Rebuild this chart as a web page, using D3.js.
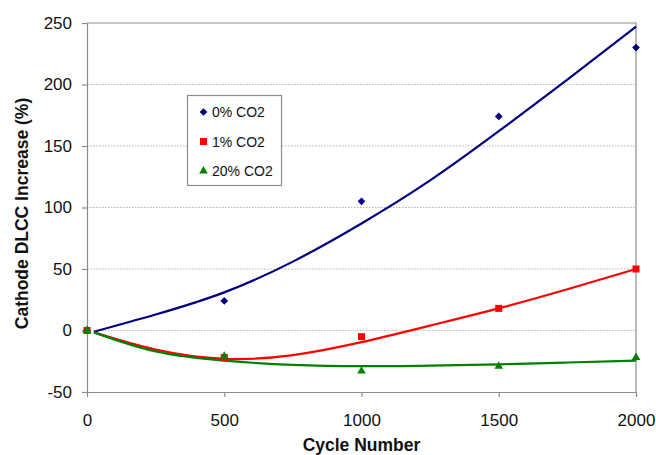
<!DOCTYPE html>
<html>
<head>
<meta charset="utf-8">
<script src="https://cdn.jsdelivr.net/npm/d3@7"></script>
<style>
  html, body { margin: 0; padding: 0; background: #fff; }
  svg { display: block; font-family: "Liberation Sans", Arial, sans-serif; }
</style>
</head>
<body>
<div id="chart"></div>
<script>
// measured points
const cycles = [0, 500, 1000, 1500, 2000];
const co2_0 = [0, 24, 105, 174, 230];
const co2_1 = [0, -22, -5, 18, 50];
const co2_20 = [0, -21, -33, -29, -22];

// trend lines
const trendCycles = [25, 250, 500, 750, 1000, 1250, 1500, 1750, 2000];
const trend0 = [-1, 13, 31, 56, 87, 122, 162, 204, 247];
const trend1 = [-1.5, -15.5, -23, -20, -9.5, 4, 18, 33.5, 50];
const trend20 = [-1.5, -17, -24.5, -28, -29, -28.5, -27.5, -26, -24.5];

const seriesNames = ['0% CO2', '1% CO2', '20% CO2'];
const seriesColors = ['#000080', '#ff0000', '#008000'];
const xTicks = [0, 500, 1000, 1500, 2000];
const yTicks = [-50, 0, 50, 100, 150, 200, 250];

const width = 656, height = 455;
const margin = { top: 23, right: 20, bottom: 63, left: 87 };
const fontFamily = '"Liberation Sans", Arial, sans-serif';

const svg = d3.select('#chart').append('svg')
    .attr('width', width)
    .attr('height', height);

const x = d3.scaleLinear().domain([0, 2000]).range([margin.left, width - margin.right]);
const y = d3.scaleLinear().domain([-50, 250]).range([height - margin.bottom, margin.top]);

// gridlines
svg.append('g')
    .selectAll('line')
    .data(yTicks.filter(d => d > -50 && d < 250))
    .join('line')
    .attr('x1', x(0)).attr('x2', x(2000))
    .attr('y1', d => y(d)).attr('y2', d => y(d))
    .attr('stroke', '#b4b4b4')
    .attr('stroke-width', 1)
    .attr('stroke-dasharray', '1.5,1.5');

// plot frame (top and right)
svg.append('path')
    .attr('d', `M${x(0)},${y(250)}H${x(2000)}V${y(-50)}`)
    .attr('fill', 'none')
    .attr('stroke', '#8c8c8c')
    .attr('stroke-width', 1.2);

// axes
const xAxis = d3.axisBottom(x).tickValues(xTicks).tickFormat(d => String(d))
    .tickSizeInner(5).tickSizeOuter(0).tickPadding(17);
const yAxis = d3.axisLeft(y).tickValues(yTicks).tickFormat(d => String(d))
    .tickSizeInner(5).tickSizeOuter(0).tickPadding(10);

const gx = svg.append('g')
    .attr('transform', `translate(0,${y(-50)})`)
    .call(xAxis);
const gy = svg.append('g')
    .attr('transform', `translate(${x(0)},0)`)
    .call(yAxis);

[gx, gy].forEach(g => {
    g.attr('font-size', null).attr('font-family', null);
    g.select('.domain').attr('stroke', '#8c8c8c').attr('stroke-width', 1.2);
    g.selectAll('.tick line').attr('stroke', '#8c8c8c').attr('stroke-width', 1.2);
    g.selectAll('.tick text')
        .attr('fill', '#111')
        .attr('font-family', fontFamily)
        .attr('font-size', 17);
});

// axis titles
svg.append('text')
    .attr('x', (x(0) + x(2000)) / 2)
    .attr('y', 451)
    .attr('text-anchor', 'middle')
    .attr('font-weight', 'bold')
    .attr('font-size', 17.5)
    .attr('fill', '#111')
    .text('Cycle Number');

svg.append('text')
    .attr('transform', `translate(28,${(y(-50) + y(250)) / 2 + 6}) rotate(-90)`)
    .attr('text-anchor', 'middle')
    .attr('font-weight', 'bold')
    .attr('font-size', 17.5)
    .attr('fill', '#111')
    .text('Cathode DLCC Increase (%)');

// trend lines
const trends = [trend0, trend1, trend20];
const line = d3.line()
    .x(d => x(d[0]))
    .y(d => y(d[1]))
    .curve(d3.curveNatural);

trends.forEach((vals, i) => {
    svg.append('path')
        .datum(trendCycles.map((c, k) => [c, vals[k]]))
        .attr('d', line)
        .attr('fill', 'none')
        .attr('stroke', seriesColors[i])
        .attr('stroke-width', 2.2);
});

// markers
const squareDiamond = {
    draw(ctx, size) {
        const r = Math.sqrt(size / 2);
        ctx.moveTo(0, -r);
        ctx.lineTo(r, 0);
        ctx.lineTo(0, r);
        ctx.lineTo(-r, 0);
        ctx.closePath();
    }
};
const symbols = [
    d3.symbol().type(squareDiamond).size(30),
    d3.symbol().type(d3.symbolSquare).size(49),
    d3.symbol().type(d3.symbolTriangle).size(32)
];
const series = [co2_0, co2_1, co2_20];

series.forEach((vals, i) => {
    svg.append('g')
        .selectAll('path')
        .data(cycles.map((c, k) => [c, vals[k]]))
        .join('path')
        .attr('transform', d => `translate(${x(d[0])},${y(d[1])})`)
        .attr('d', symbols[i])
        .attr('fill', seriesColors[i]);
});

// legend
const legend = svg.append('g').attr('transform', 'translate(187.5,95.5)');
legend.append('rect')
    .attr('width', 94)
    .attr('height', 90)
    .attr('fill', '#fff')
    .attr('stroke', '#8c8c8c')
    .attr('stroke-width', 1.2);

seriesNames.forEach((name, i) => {
    const row = legend.append('g').attr('transform', `translate(16,${16.5 + i * 29.5})`);
    row.append('path')
        .attr('d', symbols[i])
        .attr('fill', seriesColors[i]);
    row.append('text')
        .attr('x', 8.5)
        .attr('y', 0)
        .attr('dy', '0.36em')
        .attr('font-size', 14)
        .attr('fill', '#111')
        .text(name);
});
</script>
</body>
</html>
